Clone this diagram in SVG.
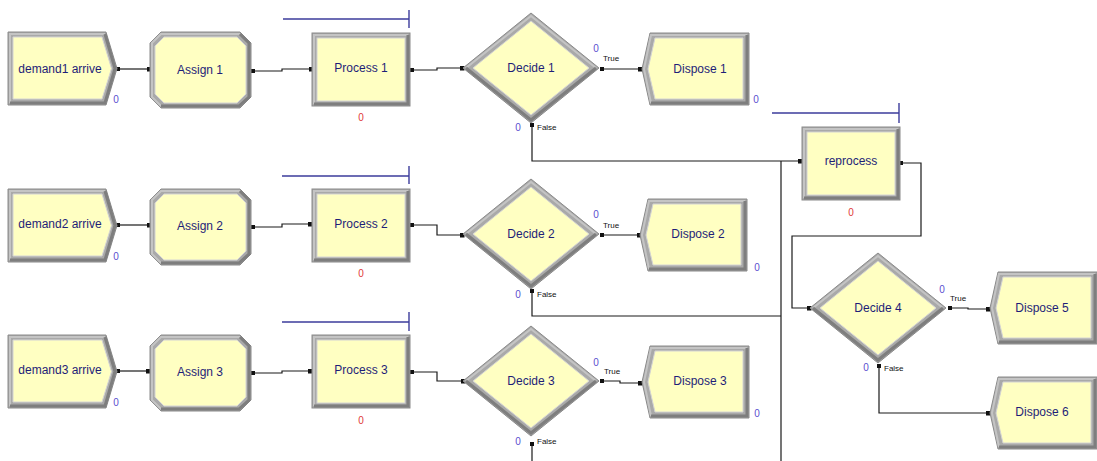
<svg xmlns="http://www.w3.org/2000/svg" xmlns:xlink="http://www.w3.org/1999/xlink" width="1097" height="461" viewBox="0 0 1097 461">
<style>
.lbl{font-family:"Liberation Sans",Arial,sans-serif;font-size:12px;fill:#1e1e78;text-anchor:middle;dominant-baseline:central}
.cnt{font-family:"Liberation Sans",Arial,sans-serif;font-size:10px;fill:#5a4fd0;text-anchor:middle}
.cntr{font-family:"Liberation Sans",Arial,sans-serif;font-size:10px;fill:#e03a3a;text-anchor:middle}
.tf{font-family:"Liberation Sans",Arial,sans-serif;font-size:8px;fill:#111}
.con{fill:none;stroke:#1a1a1a;stroke-width:1.2}
.res{fill:none;stroke:#3c3c9c;stroke-width:1.4}
.band{fill:#a9a9a9;stroke:#8a8a8a;stroke-width:1}
.lite{fill:none;stroke:#c4c4c4;stroke-width:2}
.dark{fill:none;stroke:#7e7e7e;stroke-width:3}
.inner{fill:#ffffc2;stroke:#d4d4d4;stroke-width:1}
</style>
<defs>
<marker id="ms" viewBox="0 0 4 4" refX="2" refY="2" markerWidth="4" markerHeight="4" markerUnits="userSpaceOnUse"><rect width="4" height="4" fill="#111"/></marker>
<marker id="me" viewBox="0 0 5 5" refX="2.5" refY="2.5" markerWidth="5" markerHeight="5" markerUnits="userSpaceOnUse"><rect width="5" height="5" fill="#111"/></marker>
<g id="createShape">
<polygon class="band" points="0,0 98,0 109,36.5 98,73 0,73"/>
<polyline class="lite" points="2,71 2,2 97,2"/>
<polyline class="dark" points="97,2 107,36.5 97,71 2,71"/>
<polygon class="inner" points="5,5 94,5 103.5,36.5 94,67 5,67"/>
</g>
<g id="assignShape">
<polygon class="band" points="11,0 90,0 101,11 101,65 90,76 11,76 0,65 0,11"/>
<polyline class="lite" points="11,74 2,65 2,11 11,2 90,2"/>
<polyline class="dark" points="90,2 99,11 99,65 89,74 11,74"/>
<polygon class="inner" points="14,5 87,5 96,14 96,62 87,71 14,71 5,62 5,14"/>
</g>
<g id="procShape">
<rect class="band" x="0" y="0" width="98" height="73"/>
<polyline class="lite" points="2,71 2,2 96,2"/>
<polyline class="dark" points="96,2 96,71 2,71"/>
<rect class="inner" x="5" y="5" width="88" height="63"/>
</g>
<g id="decShape">
<polygon class="band" points="0,-55 68,0 0,55 -68,0"/>
<polyline class="lite" points="-65,0 0,-52 65,0"/>
<polyline class="dark" points="65,0 0,52 -65,0"/>
<polygon class="inner" points="0,-47 58,0 0,47 -58,0"/>
</g>
<g id="dispShape">
<polygon class="band" points="8,0 107,0 107,72 8,72 0,36"/>
<polyline class="lite" points="9,70 2,36 9,2 105,2"/>
<polyline class="dark" points="105,2 105,70 9,70"/>
<polygon class="inner" points="13,5 101,5 101,66 13,66 6,36"/>
</g>
</defs>
<rect width="1097" height="461" fill="#ffffff"/>
<g id="resources">
<path class="res" d="M283,19 H409 M409,10 V28"/>
<path class="res" d="M282,176 H409 M409,166 V184"/>
<path class="res" d="M282,322 H409 M409,312 V331"/>
<path class="res" d="M772,113 H899 M899,103 V123"/>
</g>
<g id="connectors">
<path class="con" d="M118,69 H149" marker-start="url(#ms)" marker-end="url(#me)"/>
<path class="con" d="M253,71 H282 V69 H311" marker-start="url(#ms)" marker-end="url(#me)"/>
<path class="con" d="M412,70 H437 V68 H462" marker-start="url(#ms)" marker-end="url(#me)"/>
<path class="con" d="M602,69 H640" marker-start="url(#ms)" marker-end="url(#me)"/>
<path class="con" d="M532,125 V161 H800" marker-start="url(#ms)" marker-end="url(#me)"/>
<path class="con" d="M118,225 H149" marker-start="url(#ms)" marker-end="url(#me)"/>
<path class="con" d="M253,227 H282 V224 H310" marker-start="url(#ms)" marker-end="url(#me)"/>
<path class="con" d="M412,225 H437 V235 H462" marker-start="url(#ms)" marker-end="url(#me)"/>
<path class="con" d="M602,235 H639" marker-start="url(#ms)" marker-end="url(#me)"/>
<path class="con" d="M532,291 V316 H781" marker-start="url(#ms)"/>
<path class="con" d="M118,371 H148" marker-start="url(#ms)" marker-end="url(#me)"/>
<path class="con" d="M253,373 H282 V371 H310" marker-start="url(#ms)" marker-end="url(#me)"/>
<path class="con" d="M412,372 H437 V381 H463" marker-start="url(#ms)" marker-end="url(#me)"/>
<path class="con" d="M602,381 H620 V383 H640" marker-start="url(#ms)" marker-end="url(#me)"/>
<path class="con" d="M532,444 V461" marker-start="url(#ms)"/>
<path class="con" d="M781,161 V461"/>
<path class="con" d="M901,163 H921 V236 H792 V308 H809" marker-start="url(#ms)" marker-end="url(#me)"/>
<path class="con" d="M950,308 H968 V309 H988" marker-start="url(#ms)" marker-end="url(#me)"/>
<path class="con" d="M879,366 V413 H988" marker-start="url(#ms)" marker-end="url(#me)"/>
</g>
<g id="demand1-arrive"><use href="#createShape" x="8" y="32"/><text class="lbl" x="60" y="69">demand1 arrive</text><text class="cnt" x="116" y="103">0</text></g>
<g id="assign-1"><use href="#assignShape" x="150" y="32"/><text class="lbl" x="200" y="70">Assign 1</text></g>
<g id="process-1"><use href="#procShape" x="312" y="33"/><text class="lbl" x="361" y="68">Process 1</text><text class="cntr" x="361" y="121">0</text></g>
<g id="decide-1"><use href="#decShape" x="531" y="68"/><text class="lbl" x="531" y="68">Decide 1</text><text class="cnt" x="596" y="52">0</text><text class="tf" x="603" y="61">True</text><text class="cnt" x="518" y="131">0</text><text class="tf" x="537" y="130">False</text></g>
<g id="dispose-1"><use href="#dispShape" x="642" y="33"/><text class="lbl" x="700" y="69">Dispose 1</text><text class="cnt" x="756" y="103">0</text></g>
<g id="demand2-arrive"><use href="#createShape" x="8" y="189"/><text class="lbl" x="60" y="224">demand2 arrive</text><text class="cnt" x="116" y="260">0</text></g>
<g id="assign-2"><use href="#assignShape" x="150" y="189"/><text class="lbl" x="200" y="226">Assign 2</text></g>
<g id="process-2"><use href="#procShape" x="312" y="189"/><text class="lbl" x="361" y="224">Process 2</text><text class="cntr" x="361" y="277">0</text></g>
<g id="decide-2"><use href="#decShape" x="531" y="234"/><text class="lbl" x="531" y="234">Decide 2</text><text class="cnt" x="596" y="218">0</text><text class="tf" x="603" y="228">True</text><text class="cnt" x="518" y="298">0</text><text class="tf" x="537" y="297">False</text></g>
<g id="dispose-2"><use href="#dispShape" x="640" y="199"/><text class="lbl" x="698" y="234">Dispose 2</text><text class="cnt" x="757" y="271">0</text></g>
<g id="demand3-arrive"><use href="#createShape" x="8" y="335"/><text class="lbl" x="60" y="370">demand3 arrive</text><text class="cnt" x="116" y="406">0</text></g>
<g id="assign-3"><use href="#assignShape" x="150" y="335"/><text class="lbl" x="200" y="372">Assign 3</text></g>
<g id="process-3"><use href="#procShape" x="312" y="335"/><text class="lbl" x="361" y="370">Process 3</text><text class="cntr" x="361" y="424">0</text></g>
<g id="decide-3"><use href="#decShape" x="531" y="381"/><text class="lbl" x="531" y="381">Decide 3</text><text class="cnt" x="596" y="366">0</text><text class="tf" x="604" y="374">True</text><text class="cnt" x="518" y="445">0</text><text class="tf" x="537" y="444">False</text></g>
<g id="dispose-3"><use href="#dispShape" x="642" y="346"/><text class="lbl" x="700" y="381">Dispose 3</text><text class="cnt" x="757" y="417">0</text></g>
<g id="reprocess"><use href="#procShape" x="802" y="127"/><text class="lbl" x="851" y="161">reprocess</text><text class="cntr" x="851" y="216">0</text></g>
<g id="decide-4"><use href="#decShape" x="878" y="308"/><text class="lbl" x="878" y="308">Decide 4</text><text class="cnt" x="942" y="293">0</text><text class="tf" x="950" y="301">True</text><text class="cnt" x="866" y="371">0</text><text class="tf" x="884" y="371">False</text></g>
<g id="dispose-5"><use href="#dispShape" x="990" y="272"/><text class="lbl" x="1042" y="308">Dispose 5</text></g>
<g id="dispose-6"><use href="#dispShape" x="990" y="377"/><text class="lbl" x="1042" y="412">Dispose 6</text></g>
</svg>
